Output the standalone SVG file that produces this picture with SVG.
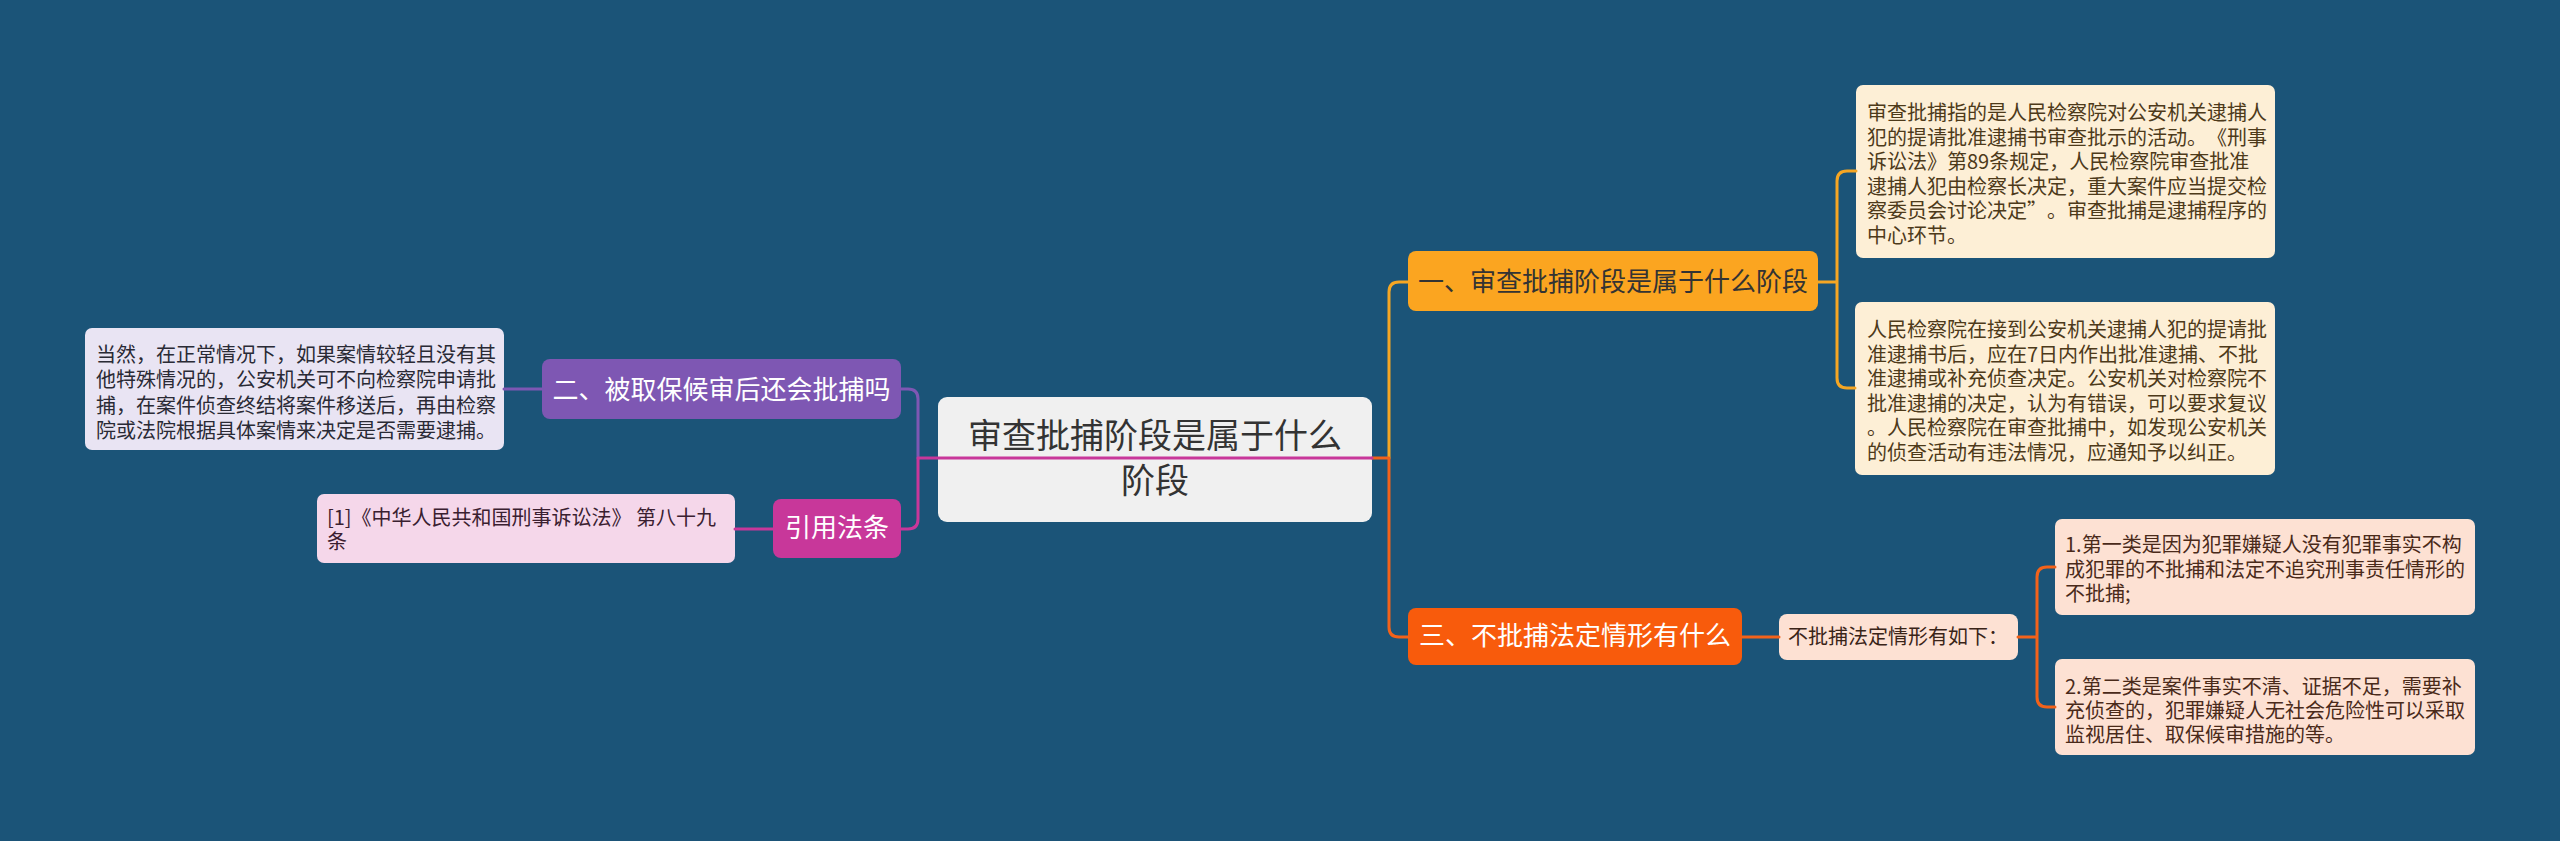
<svg xmlns="http://www.w3.org/2000/svg" width="2560" height="841" viewBox="0 0 2560 841">
<style>
text{font-family:"Noto Sans CJK SC","Noto Sans",sans-serif;text-spacing-trim:space-all;}
.c{fill:none;stroke-width:3;stroke-linecap:round;stroke-linejoin:round;}
.y{stroke:#F5A623;}
.o{stroke:#F2621A;}
.p{stroke:#7E57B3;}
.m{stroke:#C8379A;}
.t20{font-size:20px;}
.t26{font-size:26px;}
</style>
<rect x="0" y="0" width="2560" height="841" fill="#1B5478"/>

<g id="center">
<rect x="938" y="397" width="434" height="125" rx="9" fill="#F0F0F0"/>
<text x="1155" y="448" font-size="34" fill="#333333" text-anchor="middle">审查批捕阶段是属于什么</text>
<text x="1155" y="493" font-size="34" fill="#333333" text-anchor="middle">阶段</text>
</g>

<g id="n1">
<rect x="1408" y="251" width="410" height="60" rx="8" fill="#FBA520"/>
<text x="1613" y="291" class="t26" fill="#333333" text-anchor="middle">一、审查批捕阶段是属于什么阶段</text>
</g>

<g id="n1a">
<rect x="1856" y="85" width="419" height="173" rx="7" fill="#FDEFD6"/>
<g class="t20" fill="#4D3A1A">
<text x="1867" y="120">审查批捕指的是人民检察院对公安机关逮捕人</text>
<text x="1867" y="144.5">犯的提请批准逮捕书审查批示的活动。《刑事</text>
<text x="1867" y="169">诉讼法》第89条规定，人民检察院审查批准</text>
<text x="1867" y="193.5">逮捕人犯由检察长决定，重大案件应当提交检</text>
<text x="1867" y="218">察委员会讨论决定”。审查批捕是逮捕程序的</text>
<text x="1867" y="242.5">中心环节。</text>
</g>
</g>

<g id="n1b">
<rect x="1855" y="302" width="420" height="173" rx="7" fill="#FDEFD6"/>
<g class="t20" fill="#4D3A1A">
<text x="1867" y="337">人民检察院在接到公安机关逮捕人犯的提请批</text>
<text x="1867" y="361.5">准逮捕书后，应在7日内作出批准逮捕、不批</text>
<text x="1867" y="386">准逮捕或补充侦查决定。公安机关对检察院不</text>
<text x="1867" y="410.5">批准逮捕的决定，认为有错误，可以要求复议</text>
<text x="1867" y="435">。人民检察院在审查批捕中，如发现公安机关</text>
<text x="1867" y="459.5">的侦查活动有违法情况，应通知予以纠正。</text>
</g>
</g>

<g id="n3">
<rect x="1408" y="608" width="334" height="57" rx="8" fill="#F85B0C"/>
<text x="1575" y="645" class="t26" fill="#FFFFFF" text-anchor="middle">三、不批捕法定情形有什么</text>
</g>

<g id="n3a">
<rect x="1779" y="614" width="239" height="46" rx="8" fill="#FDE1D3"/>
<text x="1788" y="644" class="t20" fill="#3A2418">不批捕法定情形有如下：</text>
</g>

<g id="n3b">
<rect x="2055" y="519" width="420" height="96" rx="7" fill="#FDE1D3"/>
<g class="t20" fill="#4A2A1A">
<text x="2065" y="552">1.第一类是因为犯罪嫌疑人没有犯罪事实不构</text>
<text x="2065" y="576.5">成犯罪的不批捕和法定不追究刑事责任情形的</text>
<text x="2065" y="601">不批捕;</text>
</g>
</g>

<g id="n3c">
<rect x="2055" y="659" width="420" height="96" rx="7" fill="#FDE1D3"/>
<g class="t20" fill="#4A2A1A">
<text x="2065" y="694">2.第二类是案件事实不清、证据不足，需要补</text>
<text x="2065" y="718">充侦查的，犯罪嫌疑人无社会危险性可以采取</text>
<text x="2065" y="742">监视居住、取保候审措施的等。</text>
</g>
</g>

<g id="n2">
<rect x="542" y="359" width="359" height="60" rx="8" fill="#7E57B3"/>
<text x="721.5" y="399" class="t26" fill="#FFFFFF" text-anchor="middle">二、被取保候审后还会批捕吗</text>
</g>

<g id="n2a">
<rect x="85" y="328" width="419" height="122" rx="7" fill="#E9E4F3"/>
<g class="t20" fill="#2A2A35">
<text x="96" y="362">当然，在正常情况下，如果案情较轻且没有其</text>
<text x="96" y="387.3">他特殊情况的，公安机关可不向检察院申请批</text>
<text x="96" y="412.6">捕，在案件侦查终结将案件移送后，再由检察</text>
<text x="96" y="437.9">院或法院根据具体案情来决定是否需要逮捕。</text>
</g>
</g>

<g id="n4">
<rect x="773" y="499" width="128" height="59" rx="8" fill="#C8379A"/>
<text x="837" y="537" class="t26" fill="#FFFFFF" text-anchor="middle">引用法条</text>
</g>

<g id="n4a">
<rect x="317" y="494" width="418" height="69" rx="7" fill="#F5D7EA"/>
<g class="t20" fill="#3A2030">
<text x="327" y="525">[1]《中华人民共和国刑事诉讼法》 第八十九</text>
<text x="327" y="549">条</text>
</g>
</g>

<g id="connectors">
<path class="c y" d="M1389,458 V292 Q1389,282 1399,282 H1408"/>
<path class="c o" d="M1372,458 H1389 V627 Q1389,637 1399,637 H1408"/>
<path class="c y" d="M1818,282 H1837 M1837,282 V181 Q1837,171 1847,171 H1856 M1837,282 V378 Q1837,388 1847,388 H1855"/>
<path class="c o" d="M1742,637 H1779"/>
<path class="c o" d="M2018,637 H2037 M2037,637 V577 Q2037,567 2047,567 H2055 M2037,637 V697 Q2037,707 2047,707 H2055"/>
<path class="c p" d="M918,458 V399 Q918,389 908,389 H901"/>
<path class="c p" d="M542,389 H504"/>
<path class="c m" d="M1372,458 H918 V519 Q918,529 908,529 H901"/>
<path class="c m" d="M773,529 H735"/>
</g>
</svg>
